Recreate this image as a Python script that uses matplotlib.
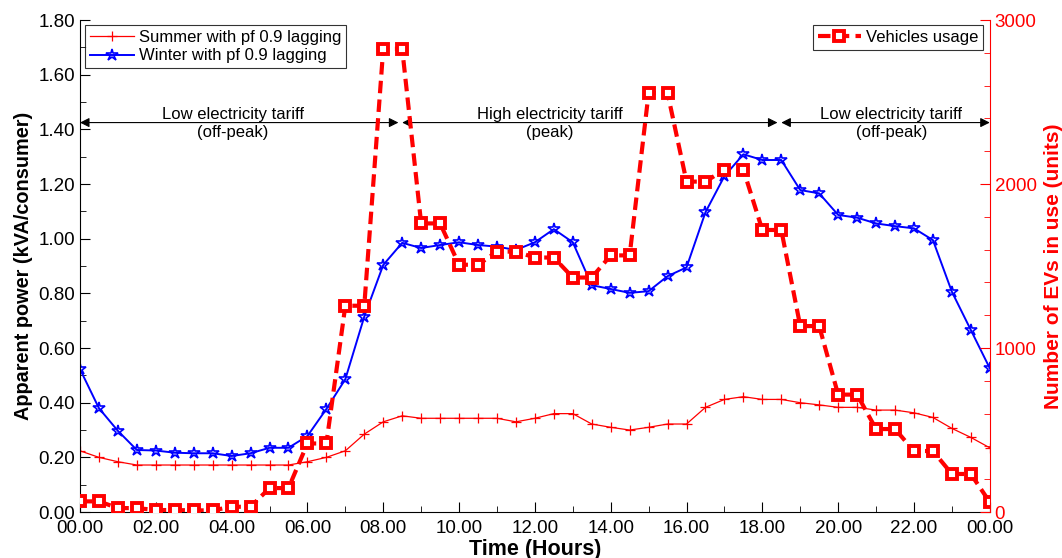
import numpy as np
import matplotlib
matplotlib.use("Agg")
import matplotlib.pyplot as plt
from matplotlib.ticker import MultipleLocator

plt.rcParams['font.family'] = ['Liberation Sans', 'DejaVu Sans']

# half-hourly time axis (hours)
hours = np.arange(0, 24.5, 0.5)

summer = [0.224, 0.20, 0.184, 0.172, 0.172, 0.172, 0.172, 0.172, 0.172, 0.172,
          0.172, 0.172, 0.184, 0.20, 0.224, 0.285, 0.33, 0.352, 0.343, 0.343,
          0.343, 0.343, 0.343, 0.33, 0.343, 0.36, 0.36, 0.322, 0.31, 0.30,
          0.31, 0.322, 0.322, 0.383, 0.412, 0.422, 0.412, 0.412, 0.40, 0.392,
          0.383, 0.383, 0.373, 0.373, 0.363, 0.346, 0.306, 0.273, 0.235]

winter = [0.523, 0.38, 0.297, 0.227, 0.225, 0.217, 0.215, 0.215, 0.205, 0.215,
          0.235, 0.235, 0.278, 0.377, 0.486, 0.715, 0.904, 0.985, 0.966, 0.977,
          0.987, 0.977, 0.971, 0.959, 0.987, 1.035, 0.987, 0.83, 0.816, 0.802,
          0.808, 0.863, 0.895, 1.097, 1.229, 1.309, 1.288, 1.288, 1.178, 1.166,
          1.087, 1.077, 1.056, 1.046, 1.038, 0.995, 0.806, 0.666, 0.526]

vehicles = [65, 65, 24, 24, 12, 12, 10, 10, 32, 32, 146, 146, 418, 418,
            1258, 1258, 2825, 2825, 1760, 1760, 1508, 1508, 1588, 1588,
            1552, 1552, 1430, 1430, 1565, 1565, 2555, 2555, 2015, 2015,
            2088, 2088, 1720, 1720, 1134, 1134, 716, 716, 506, 506,
            372, 372, 232, 232, 60]

xtick_pos = list(range(0, 25, 2))
xtick_labels = ['00.00', '02.00', '04.00', '06.00', '08.00', '10.00', '12.00',
                '14.00', '16.00', '18.00', '20.00', '22.00', '00.00']

# tariff periods: (start, end, line1, line2, text x)
periods = [(0, 8.4, 'Low electricity tariff', '(off-peak)', 4.03),
           (8.5, 18.4, 'High electricity tariff', '(peak)', 12.4),
           (18.5, 24, 'Low electricity tariff', '(off-peak)', 21.4)]

fig = plt.figure(figsize=(10.62, 5.58), dpi=100)
ax = fig.add_axes([0.0753, 0.0824, 0.8567, 0.8816])

ax.plot(hours, summer, color='red', lw=0.9, marker='+', ms=7, mew=0.9,
        label='Summer with pf 0.9 lagging')
ax.plot(hours, winter, color='blue', lw=1.4, marker='*', ms=9, mew=1.2,
        mfc='none', label='Winter with pf 0.9 lagging')

ax.set_xlim(0, 24)
ax.set_ylim(0, 1.8)
ax.set_xticks(xtick_pos)
ax.set_xticklabels(xtick_labels)
ax.xaxis.set_minor_locator(MultipleLocator(1))
ax.yaxis.set_major_locator(MultipleLocator(0.2))
ax.yaxis.set_minor_locator(MultipleLocator(0.1))
ax.yaxis.set_major_formatter(matplotlib.ticker.FormatStrFormatter('%.2f'))
ax.tick_params(which='both', direction='in', labelsize=13.5)
ax.tick_params(which='major', length=7)
ax.tick_params(which='minor', length=4)
ax.tick_params(axis='x', pad=6)
ax.spines['top'].set_visible(False)
ax.spines['right'].set_visible(False)
ax.set_xlabel('Time (Hours)', fontsize=15.5, fontweight='bold', labelpad=1)
ax.set_ylabel('Apparent power (kVA/consumer)', fontsize=14.3, fontweight='bold',
              labelpad=4)

for start, end, t1, t2, tx in periods:
    ax.annotate('', xy=(start, 1.425), xytext=(end, 1.425),
                arrowprops=dict(arrowstyle='<|-|>', color='black', lw=0.8,
                                mutation_scale=14, shrinkA=0, shrinkB=0))
    ax.text(tx, 1.455, t1, ha='center', va='center', fontsize=12)
    ax.text(tx, 1.39, t2, ha='center', va='center', fontsize=12)

leg1 = ax.legend(loc='upper left', bbox_to_anchor=(0.006, 0.99), fontsize=12,
                 frameon=True, fancybox=False, edgecolor='black',
                 borderpad=0.3, labelspacing=0.2, handlelength=2.6,
                 handletextpad=0.3, borderaxespad=0)
leg1.get_frame().set_linewidth(0.8)

ax2 = ax.twinx()
ax2.plot(hours, vehicles, color='red', lw=3, ls='--', dashes=(3, 1.5),
         marker='s', ms=6.5, mfc='white', mec='red', mew=2.8,
         label='Vehicles usage')
ax2.set_ylim(0, 3000)
ax2.yaxis.set_major_locator(MultipleLocator(1000))
ax2.yaxis.set_minor_locator(MultipleLocator(200))
ax2.tick_params(which='both', direction='in', labelsize=13.5, colors='red')
ax2.tick_params(which='major', length=7)
ax2.tick_params(which='minor', length=4)
for s in ['top', 'left', 'bottom']:
    ax2.spines[s].set_visible(False)
ax2.spines['right'].set_color('red')
ax2.set_ylabel('Number of EVs in use (units)', fontsize=15, fontweight='bold',
               color='red', labelpad=5)

leg2 = ax2.legend(loc='upper right', bbox_to_anchor=(0.993, 0.99), fontsize=12,
                  frameon=True, fancybox=False, edgecolor='black',
                  borderpad=0.3, handlelength=2.6, handletextpad=0.3,
                  borderaxespad=0)
leg2.get_frame().set_linewidth(0.8)

fig.savefig('out.png', dpi=100)
